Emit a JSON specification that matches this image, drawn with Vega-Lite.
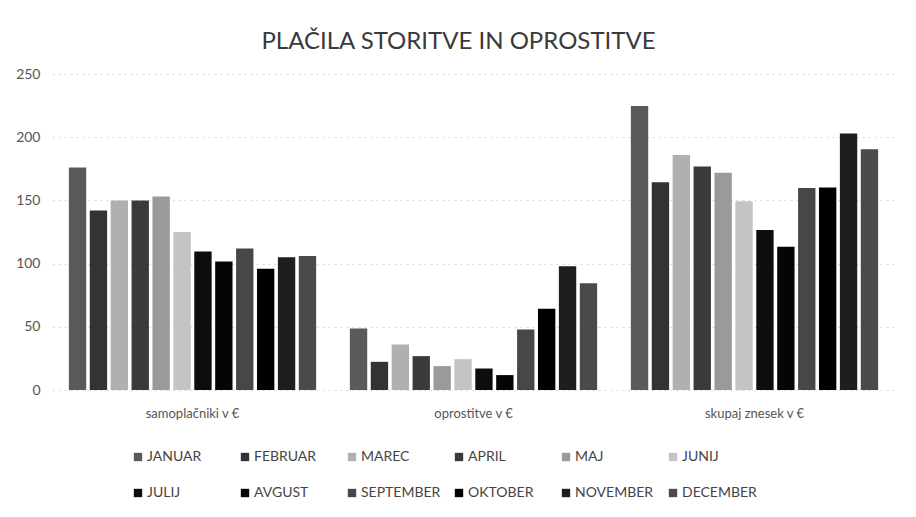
{
  "$schema": "https://vega.github.io/schema/vega-lite/v6.json",
  "width": 843,
  "height": 316,
  "autosize": {"type": "none"},
  "padding": {"left": 52, "top": 74, "right": 21, "bottom": 127},
  "background": "white",
  "title": {
    "text": "PLAČILA STORITVE IN OPROSTITVE",
    "font": "Lato",
    "fontSize": 24,
    "fontWeight": "normal",
    "color": "#3a3a3a",
    "anchor": "middle",
    "dx": -15,
    "offset": 13
  },
  "data": {
    "values": [
      {"skupina": "samoplačniki v €", "mesec": "JANUAR", "vrednost": 176},
      {"skupina": "samoplačniki v €", "mesec": "FEBRUAR", "vrednost": 142},
      {"skupina": "samoplačniki v €", "mesec": "MAREC", "vrednost": 150},
      {"skupina": "samoplačniki v €", "mesec": "APRIL", "vrednost": 150},
      {"skupina": "samoplačniki v €", "mesec": "MAJ", "vrednost": 153},
      {"skupina": "samoplačniki v €", "mesec": "JUNIJ", "vrednost": 125},
      {"skupina": "samoplačniki v €", "mesec": "JULIJ", "vrednost": 109.5},
      {"skupina": "samoplačniki v €", "mesec": "AVGUST", "vrednost": 101.6},
      {"skupina": "samoplačniki v €", "mesec": "SEPTEMBER", "vrednost": 112},
      {"skupina": "samoplačniki v €", "mesec": "OKTOBER", "vrednost": 96},
      {"skupina": "samoplačniki v €", "mesec": "NOVEMBER", "vrednost": 105},
      {"skupina": "samoplačniki v €", "mesec": "DECEMBER", "vrednost": 106},
      {"skupina": "oprostitve v €", "mesec": "JANUAR", "vrednost": 48.6},
      {"skupina": "oprostitve v €", "mesec": "FEBRUAR", "vrednost": 22.3},
      {"skupina": "oprostitve v €", "mesec": "MAREC", "vrednost": 36},
      {"skupina": "oprostitve v €", "mesec": "APRIL", "vrednost": 26.8},
      {"skupina": "oprostitve v €", "mesec": "MAJ", "vrednost": 18.9},
      {"skupina": "oprostitve v €", "mesec": "JUNIJ", "vrednost": 24.4},
      {"skupina": "oprostitve v €", "mesec": "JULIJ", "vrednost": 17},
      {"skupina": "oprostitve v €", "mesec": "AVGUST", "vrednost": 11.8},
      {"skupina": "oprostitve v €", "mesec": "SEPTEMBER", "vrednost": 47.8},
      {"skupina": "oprostitve v €", "mesec": "OKTOBER", "vrednost": 64.3},
      {"skupina": "oprostitve v €", "mesec": "NOVEMBER", "vrednost": 98},
      {"skupina": "oprostitve v €", "mesec": "DECEMBER", "vrednost": 84.5},
      {"skupina": "skupaj znesek v €", "mesec": "JANUAR", "vrednost": 224.6},
      {"skupina": "skupaj znesek v €", "mesec": "FEBRUAR", "vrednost": 164.3},
      {"skupina": "skupaj znesek v €", "mesec": "MAREC", "vrednost": 186},
      {"skupina": "skupaj znesek v €", "mesec": "APRIL", "vrednost": 176.8},
      {"skupina": "skupaj znesek v €", "mesec": "MAJ", "vrednost": 171.9},
      {"skupina": "skupaj znesek v €", "mesec": "JUNIJ", "vrednost": 149.4},
      {"skupina": "skupaj znesek v €", "mesec": "JULIJ", "vrednost": 126.5},
      {"skupina": "skupaj znesek v €", "mesec": "AVGUST", "vrednost": 113.4},
      {"skupina": "skupaj znesek v €", "mesec": "SEPTEMBER", "vrednost": 159.8},
      {"skupina": "skupaj znesek v €", "mesec": "OKTOBER", "vrednost": 160.3},
      {"skupina": "skupaj znesek v €", "mesec": "NOVEMBER", "vrednost": 203},
      {"skupina": "skupaj znesek v €", "mesec": "DECEMBER", "vrednost": 190.5}
    ]
  },
  "mark": {"type": "bar"},
  "encoding": {
    "x": {
      "field": "skupina",
      "type": "nominal",
      "sort": ["samoplačniki v €", "oprostitve v €", "skupaj znesek v €"],
      "scale": {"paddingInner": 0.12, "paddingOuter": 0.06},
      "axis": {
        "title": null,
        "labelAngle": 0,
        "labelFont": "Lato",
        "labelFontSize": 13,
        "labelColor": "#555555",
        "labelPadding": 17,
        "ticks": false,
        "domain": false
      }
    },
    "xOffset": {
      "field": "mesec",
      "type": "nominal",
      "sort": ["JANUAR", "FEBRUAR", "MAREC", "APRIL", "MAJ", "JUNIJ", "JULIJ", "AVGUST", "SEPTEMBER", "OKTOBER", "NOVEMBER", "DECEMBER"],
      "scale": {"paddingInner": 0.17, "paddingOuter": 0}
    },
    "y": {
      "field": "vrednost",
      "type": "quantitative",
      "scale": {"domain": [0, 250]},
      "axis": {
        "title": null,
        "values": [0, 50, 100, 150, 200, 250],
        "labelFont": "Lato",
        "labelFontSize": 14,
        "labelColor": "#555555",
        "labelPadding": 12,
        "ticks": false,
        "domain": false,
        "gridColor": "#d8d8d8",
        "gridDash": [2, 4]
      }
    },
    "color": {
      "field": "mesec",
      "type": "nominal",
      "sort": ["JANUAR", "FEBRUAR", "MAREC", "APRIL", "MAJ", "JUNIJ", "JULIJ", "AVGUST", "SEPTEMBER", "OKTOBER", "NOVEMBER", "DECEMBER"],
      "scale": {
        "domain": ["JANUAR", "FEBRUAR", "MAREC", "APRIL", "MAJ", "JUNIJ", "JULIJ", "AVGUST", "SEPTEMBER", "OKTOBER", "NOVEMBER", "DECEMBER"],
        "range": ["#5a5a5a", "#333333", "#b0b0b0", "#3a3a3a", "#9a9a9a", "#c4c4c4", "#0d0d0d", "#050505", "#474747", "#000000", "#1e1e1e", "#4a4a4a"]
      },
      "legend": {
        "title": null,
        "orient": "none",
        "legendX": 79,
        "legendY": 376,
        "direction": "horizontal",
        "columns": 6,
        "gridAlign": "all",
        "columnPadding": 11,
        "rowPadding": 22,
        "symbolType": "square",
        "symbolSize": 70,
        "symbolOffset": 0,
        "labelOffset": 2,
        "labelFont": "Lato",
        "labelFontSize": 14,
        "labelColor": "#444444",
        "labelLimit": 200
      }
    }
  },
  "config": {
    "view": {"stroke": null}
  }
}
